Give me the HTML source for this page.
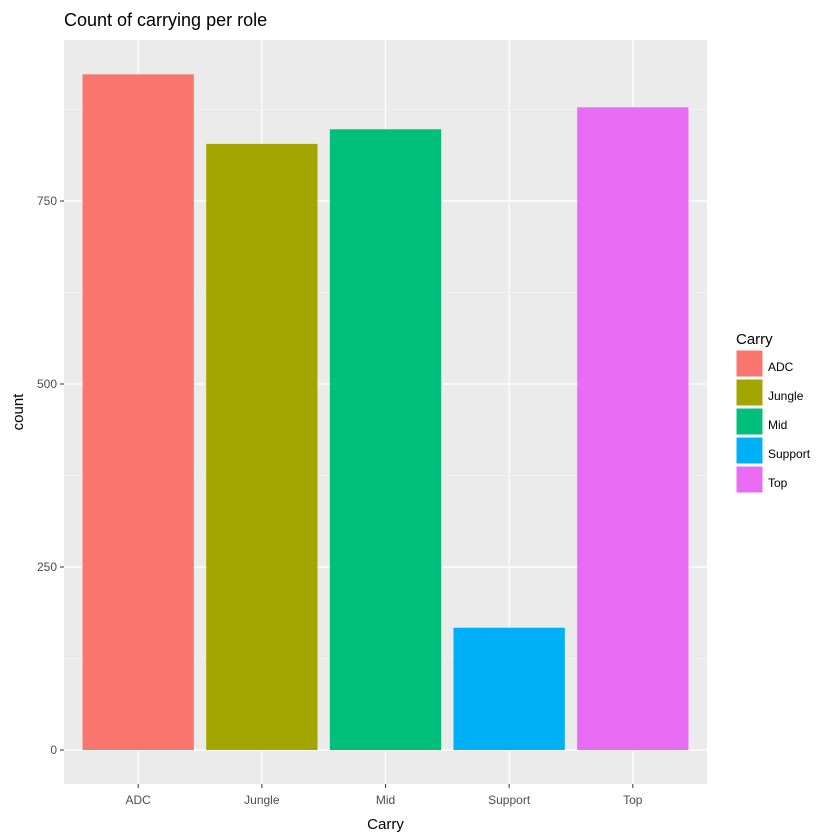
<!DOCTYPE html>
<html><head><meta charset="utf-8"><style>
body{margin:0;background:#fff;}
svg{display:block;font-family:"Liberation Sans",sans-serif;}
</style></head><body>
<svg id="chart" width="840" height="840" xmlns="http://www.w3.org/2000/svg"></svg>
<script>
const categories=["ADC","Jungle","Mid","Support","Top"];
const counts=[923,828,848,167,878];
const colors=["#F8766D","#A3A500","#00BF7D","#00B0F6","#E76BF3"];
const yTicks=[0,250,500,750];
const yMinor=[125,375,625,875];

const svg=document.getElementById('chart');
const NS="http://www.w3.org/2000/svg";
const P={l:64,r:707,t:40,b:784};
function y(v){return 750-v*0.732;}
function x(i){return P.l+(i+1-0.4)*((P.r-P.l)/5.2);}
const bw=0.9*(P.r-P.l)/5.2;
function el(tag,attrs,name,text){const e=document.createElementNS(NS,tag);for(const k in attrs)e.setAttribute(k,attrs[k]);


if(text!==undefined)e.textContent=text;svg.appendChild(e);return e;}

el('rect',{x:P.l,y:P.t,width:P.r-P.l,height:P.b-P.t,fill:'#EBEBEB'},'plot-panel');
yMinor.forEach(v=>el('line',{x1:P.l,x2:P.r,y1:y(v),y2:y(v),stroke:'#F5F5F5','stroke-width':0.6},'minor-gridline'));
yTicks.forEach(v=>el('line',{x1:P.l,x2:P.r,y1:y(v),y2:y(v),stroke:'#fff','stroke-width':1.2},'major-gridline'));
categories.forEach((c,i)=>el('line',{x1:x(i),x2:x(i),y1:P.t,y2:P.b,stroke:'#fff','stroke-width':1.2},'x-gridline'));
categories.forEach((c,i)=>el('rect',{x:x(i)-bw/2,y:y(counts[i]),width:bw,height:y(0)-y(counts[i]),fill:colors[i]},'bar-'+c.toLowerCase()));
yTicks.forEach(v=>{el('line',{x1:P.l-4,x2:P.l,y1:y(v),y2:y(v),stroke:'#333'},'y-tick');
el('text',{x:P.l-7,y:y(v)+4,'text-anchor':'end','font-size':12,fill:'#4D4D4D'},'y-tick-label',v);});
categories.forEach((c,i)=>{el('line',{x1:x(i),x2:x(i),y1:P.b,y2:P.b+4,stroke:'#333'},'x-tick');
el('text',{x:x(i),y:P.b+20,'text-anchor':'middle','font-size':12,fill:'#4D4D4D'},'x-tick-label',c);});
el('text',{x:(P.l+P.r)/2,y:829,'text-anchor':'middle','font-size':15,fill:'#000'},'x-axis-title','Carry');
el('text',{x:0,y:0,'text-anchor':'middle','font-size':15,fill:'#000',transform:`translate(23,${(P.t+P.b)/2}) rotate(-90)`},'y-axis-title','count');
el('text',{x:64,y:26,'font-size':18,fill:'#000'},'chart-title','Count of carrying per role');
el('text',{x:736,y:344,'font-size':15,fill:'#000'},'legend-title','Carry');
categories.forEach((c,i)=>{el('rect',{x:736,y:350+i*29,width:27,height:27,fill:colors[i],stroke:'#fff'},'legend-key-'+c.toLowerCase());
el('text',{x:768,y:371+i*29,'font-size':12,fill:'#000'},'legend-label',c);});
</script>
</body></html>
